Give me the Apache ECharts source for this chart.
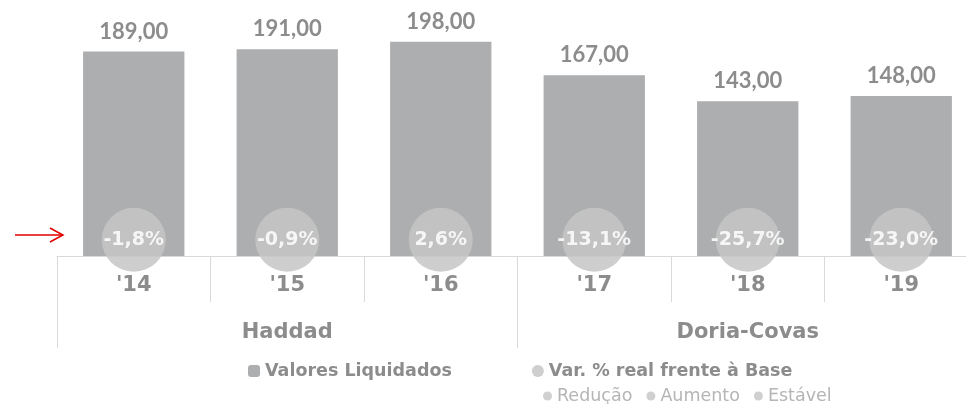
<!DOCTYPE html>
<html>
<head>
<meta charset="utf-8">
<script src="https://cdn.jsdelivr.net/npm/echarts@6/dist/echarts.min.js"></script>
<style>
  html, body { margin: 0; padding: 0; background: #fff; }
  #chart { width: 966px; height: 404px; }
</style>
</head>
<body>
<div id="chart"></div>
<script>
// dados
const anos = ["'14", "'15", "'16", "'17", "'18", "'19"]
const gestoes = ['Haddad', 'Doria-Covas']
const valoresLiquidados = [189, 191, 198, 167, 143, 148]
const variacaoReal = [-1.8, -0.9, 2.6, -13.1, -25.7, -23.0]
const nivelMarcador = 15 // altura fixa dos círculos no eixo dos valores

const NUM = 'Lato, "Open Sans", sans-serif'
const WIDE = '"DejaVu Sans", sans-serif'
const cinza = '#8c8c8c'
const linha = '#d9d9d9'

const fmt = v => v.toFixed(2).replace('.', ',')
const fmtPct = v => v.toFixed(1).replace('.', ',') + '%'

const chart = echarts.init(document.getElementById('chart'))
chart.setOption({
  animation: false,
  textStyle: { fontFamily: WIDE },
  grid: { left: 57, width: 921, top: 18, bottom: 148, outerBoundsMode: 'none', containLabel: false },
  xAxis: [
    {
      type: 'category', data: anos,
      axisLine: { lineStyle: { color: linha } },
      axisTick: { show: true, length: 46, lineStyle: { color: linha } },
      axisLabel: { color: cinza, fontSize: 21, fontWeight: 'bold', margin: 19, fontFamily: WIDE }
    },
    {
      type: 'category', data: gestoes, position: 'bottom',
      axisLine: { show: false },
      axisTick: { show: true, length: 92, lineStyle: { color: linha } },
      axisLabel: { color: cinza, fontSize: 21, fontWeight: 'bold', margin: 66, fontFamily: WIDE }
    }
  ],
  yAxis: { type: 'value', min: 0, max: 220, show: false },
  legend: [
    {
      data: ['Valores Liquidados', 'Var. % real frente à Base'],
      left: 243, top: 357, itemGap: 80, itemWidth: 12, itemHeight: 12,
      textStyle: { color: cinza, fontSize: 17.5, fontWeight: 'bold', fontFamily: WIDE }
    },
    {
      data: ['Redução', 'Aumento', 'Estável'],
      icon: 'circle', left: 543, top: 387, padding: 0, itemGap: 14, itemWidth: 9, itemHeight: 9,
      textStyle: { color: '#b5b5b5', fontSize: 17.5, fontFamily: WIDE }
    }
  ],
  series: [
    {
      name: 'Valores Liquidados', type: 'bar', data: valoresLiquidados, barWidth: '66%',
      itemStyle: { color: '#adaeb0' }, legendIcon: 'rect',
      label: { show: true, position: 'top', distance: 9, formatter: p => fmt(p.value),
        color: cinza, fontSize: 22, fontWeight: 'bold', fontFamily: NUM }
    },
    {
      name: 'Var. % real frente à Base', type: 'scatter', symbolSize: 64, legendIcon: 'circle',
      data: variacaoReal.map(() => nivelMarcador),
      itemStyle: { color: '#c4c5c4', opacity: 0.85 },
      label: { show: true, position: 'inside', formatter: p => fmtPct(variacaoReal[p.dataIndex]),
        color: '#fff', fontSize: 19, fontWeight: 'bold', fontFamily: WIDE }
    },
    { name: 'Redução', type: 'scatter', data: [], itemStyle: { color: '#c4c4c4' } },
    { name: 'Aumento', type: 'scatter', data: [], itemStyle: { color: '#c4c4c4' } },
    { name: 'Estável', type: 'scatter', data: [], itemStyle: { color: '#c4c4c4' } }
  ],
  graphic: [
    { type: 'line', shape: { x1: 15, y1: 235, x2: 62, y2: 235 }, style: { stroke: '#e00000', lineWidth: 1.5 } },
    { type: 'polyline', shape: { points: [[50, 228], [63, 235], [50, 242]] }, style: { stroke: '#e00000', lineWidth: 1.5, fill: null } }
  ]
})
</script>
</body>
</html>
